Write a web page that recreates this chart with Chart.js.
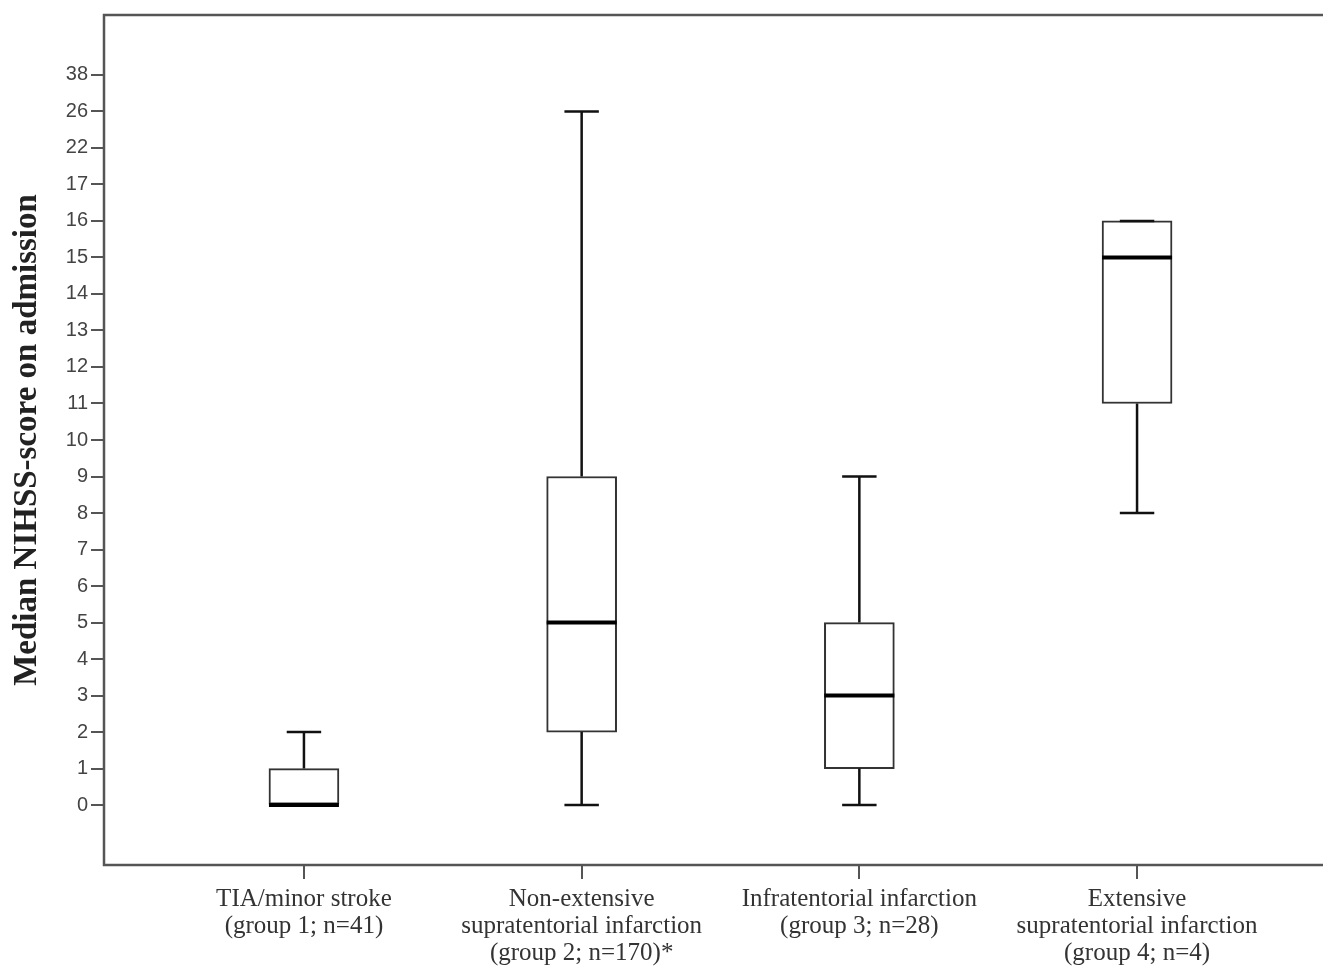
<!DOCTYPE html>
<html>
<head>
<meta charset="utf-8">
<title>Median NIHSS-score on admission</title>
<script src="https://cdn.jsdelivr.net/npm/chart.js@4/dist/chart.umd.min.js"></script>
<style>
  html, body { margin: 0; padding: 0; background: #fff; overflow: hidden; }
  #chart { display: block; }
</style>
</head>
<body>
<canvas id="chart" width="1340" height="967"></canvas>
<script>
// Ordinal y axis as printed in the figure (evenly spaced labels)
const yLabels = [0, 1, 2, 3, 4, 5, 6, 7, 8, 9, 10, 11, 12, 13, 14, 15, 16, 17, 22, 26, 38];

// Groups (x categories)
const groupLabels = [
  ['TIA/minor stroke', '(group 1; n=41)'],
  ['Non-extensive', 'supratentorial infarction', '(group 2; n=170)*'],
  ['Infratentorial infarction', '(group 3; n=28)'],
  ['Extensive', 'supratentorial infarction', '(group 4; n=4)']
];

// Box plot values (NIHSS score)
const minVals = [0, 0, 0, 8];
const q1Vals  = [0, 2, 1, 11];
const medVals = [0, 5, 3, 15];
const q3Vals  = [1, 9, 5, 16];
const maxVals = [2, 26, 9, 16];

// map a score onto the ordinal axis position
const rank = v => yLabels.indexOf(v);

const BOX_HALF = 0.126;   // half box width in x units
const CAP_HALF = 0.062;   // half whisker cap width in x units

const boxData = groupLabels.map((_, i) => ({ x: i + 1, y: [rank(q1Vals[i]), rank(q3Vals[i])] }));

const whiskerData = [];
groupLabels.forEach((_, i) => {
  const x = i + 1;
  whiskerData.push(
    { x, y: rank(q3Vals[i]) }, { x, y: rank(maxVals[i]) }, { x, y: null },
    { x: x - CAP_HALF, y: rank(maxVals[i]) }, { x: x + CAP_HALF, y: rank(maxVals[i]) }, { x, y: null },
    { x, y: rank(q1Vals[i]) }, { x, y: rank(minVals[i]) }, { x, y: null },
    { x: x - CAP_HALF, y: rank(minVals[i]) }, { x: x + CAP_HALF, y: rank(minVals[i]) }, { x, y: null }
  );
});

const medianData = [];
groupLabels.forEach((_, i) => {
  const x = i + 1;
  medianData.push(
    { x: x - BOX_HALF, y: rank(medVals[i]) }, { x: x + BOX_HALF, y: rank(medVals[i]) }, { x, y: null }
  );
});

// frame around the plot area
const framePlugin = {
  id: 'frame',
  afterDraw(chart) {
    const { ctx, chartArea: a } = chart;
    ctx.save();
    ctx.strokeStyle = '#555';
    ctx.lineWidth = 2.5;
    ctx.strokeRect(a.left, a.top, a.right - a.left, a.bottom - a.top);
    ctx.restore();
  }
};

new Chart(document.getElementById('chart'), {
  type: 'bar',
  data: {
    datasets: [
      {
        type: 'line',
        label: 'median',
        data: medianData,
        borderColor: '#000',
        borderWidth: 4,
        pointRadius: 0,
        spanGaps: false,
        order: 0
      },
      {
        type: 'line',
        label: 'whiskers',
        data: whiskerData,
        borderColor: '#111',
        borderWidth: 2.5,
        pointRadius: 0,
        spanGaps: false,
        order: 1
      },
      {
        label: 'box',
        data: boxData,
        backgroundColor: '#fff',
        borderColor: '#333',
        borderWidth: 2,
        borderSkipped: false,
        barThickness: 70,
        grouped: false,
        order: 2
      }
    ]
  },
  options: {
    responsive: false,
    animation: false,
    devicePixelRatio: 1,
    layout: { padding: { top: 13, right: 3, left: 0, bottom: 0 } },
    plugins: {
      legend: { display: false },
      tooltip: { enabled: false }
    },
    scales: {
      x: {
        type: 'linear',
        offset: false,
        min: 0.28,
        max: 4.72,
        afterBuildTicks: s => { s.ticks = groupLabels.map((_, i) => ({ value: i + 1 })); },
        afterFit: s => { s.height = 102; },
        border: { display: false },
        grid: { offset: false, drawOnChartArea: false, drawTicks: true, tickLength: 14, color: '#555', lineWidth: 2 },
        ticks: {
          autoSkip: false,
          maxRotation: 0,
          padding: 7,
          color: '#333',
          font: { family: 'Liberation Serif', size: 25, lineHeight: 1.08 },
          callback: v => groupLabels[v - 1]
        }
      },
      y: {
        type: 'linear',
        min: -1.64,
        max: yLabels.length - 1 + 1.64,
        afterBuildTicks: s => { s.ticks = yLabels.map((_, i) => ({ value: i })); },
        afterFit: s => { s.width = 104; },
        border: { display: false },
        grid: { drawOnChartArea: false, drawTicks: true, tickLength: 13, color: '#555', lineWidth: 2 },
        ticks: {
          autoSkip: false,
          padding: 3,
          color: '#444',
          font: { family: 'Liberation Sans', size: 20 },
          callback: v => yLabels[v]
        },
        title: {
          display: true,
          text: 'Median NIHSS-score on admission',
          color: '#222',
          padding: { top: 11, bottom: 0 },
          font: { family: 'Liberation Serif', size: 33, weight: 'bold', lineHeight: 1 }
        }
      }
    }
  },
  plugins: [framePlugin]
});
</script>
</body>
</html>
